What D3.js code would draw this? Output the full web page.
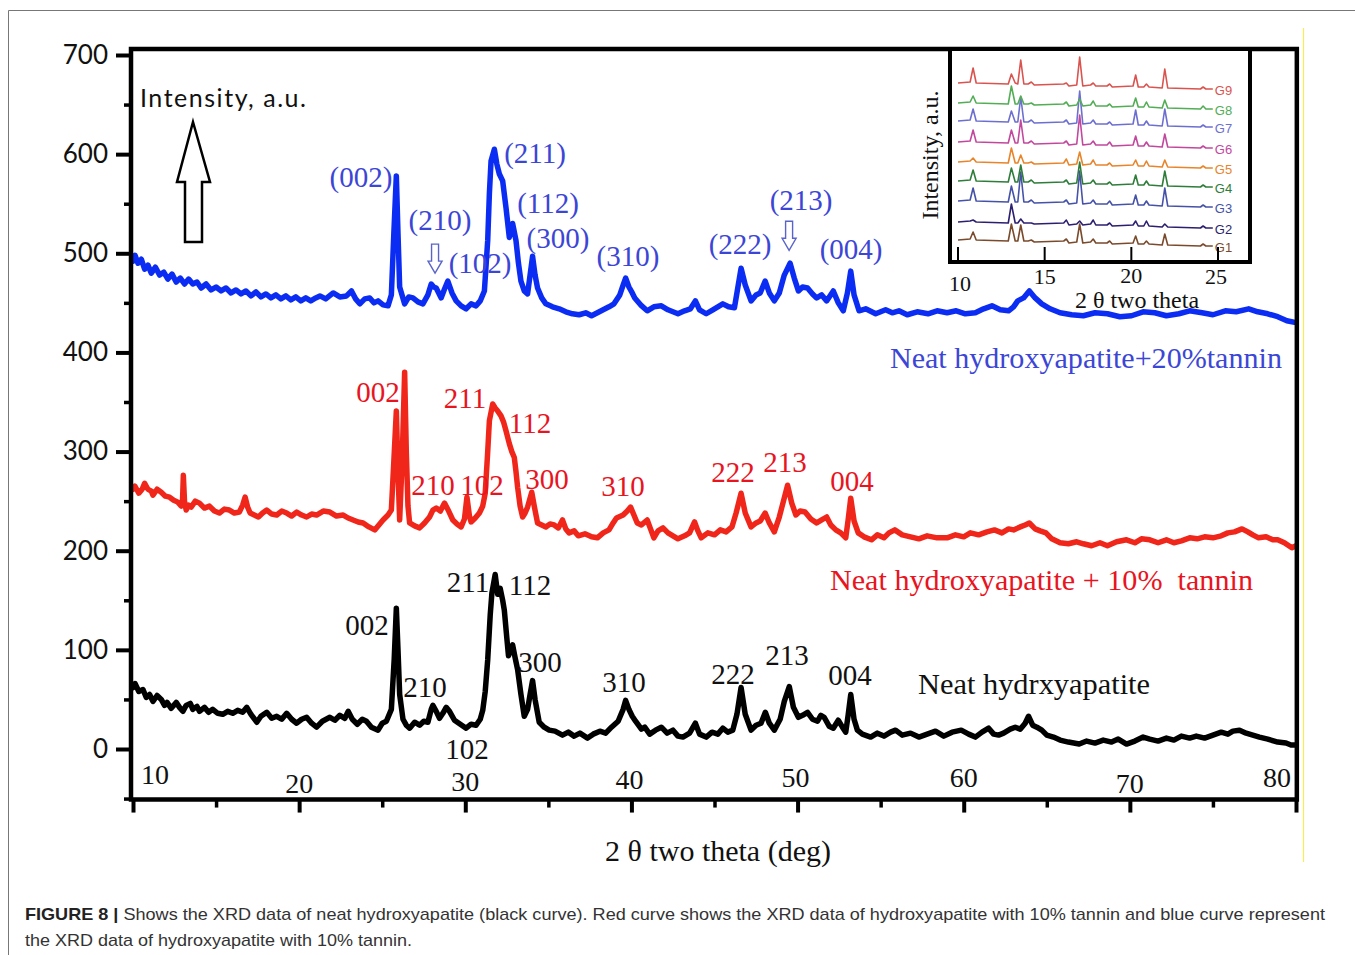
<!DOCTYPE html>
<html>
<head>
<meta charset="utf-8">
<script src="https://cdn.jsdelivr.net/npm/d3@7"></script>
<style>
  body { margin: 0; background: #fff; }
  text { white-space: pre; }
</style>
</head>
<body>
<svg id="chart"></svg>
<script>
// 2 theta (deg), intensity (a.u.)
var neatHA = [[10.0,62],[10.12,66],[10.35,58],[10.6,60],[10.8,52],[11.0,55],[11.2,48],[11.45,54],[11.7,50],[11.9,44],[12.05,47],[12.3,41],[12.6,47],[12.8,42],[13.0,38],[13.2,44],[13.45,46],[13.6,40],[13.85,43],[14.0,38],[14.3,42],[14.55,37],[14.8,40],[15.1,36],[15.4,35],[15.7,38],[16.0,36],[16.3,39],[16.6,37],[16.85,42],[17.1,35],[17.45,27],[17.7,33],[18.05,37],[18.35,31],[18.65,33],[18.95,30],[19.25,36],[19.55,30],[19.85,26],[20.15,30],[20.45,32],[20.75,26],[21.05,22],[21.4,28],[21.85,32],[22.15,29],[22.45,34],[22.75,31],[22.95,38],[23.2,30],[23.5,25],[23.8,30],[24.05,28],[24.35,22],[24.75,19],[25.0,26],[25.25,28],[25.55,40],[25.72,90],[25.85,142],[25.95,100],[26.05,55],[26.25,30],[26.45,24],[26.65,21],[26.95,27],[27.25,24],[27.5,28],[27.75,27],[27.95,40],[28.05,44],[28.25,38],[28.45,31],[28.65,36],[28.85,42],[29.05,38],[29.35,29],[29.7,25],[30.05,21],[30.35,25],[30.65,24],[30.9,30],[31.05,39],[31.2,58],[31.35,90],[31.5,135],[31.6,157],[31.8,176],[31.95,156],[32.1,162],[32.25,150],[32.35,140],[32.5,112],[32.6,94],[32.75,100],[32.85,105],[33.0,92],[33.15,80],[33.35,55],[33.55,33],[33.75,40],[33.9,55],[34.05,69],[34.2,50],[34.45,27],[34.75,22],[35.05,19],[35.4,18],[35.85,14],[36.2,17],[36.55,13],[36.9,16],[37.36,11],[37.7,15],[38.1,18],[38.45,16],[38.8,22],[39.2,28],[39.5,40],[39.65,49],[39.85,40],[40.05,33],[40.25,28],[40.6,20],[40.8,22],[41.1,15],[41.45,19],[41.8,22],[42.15,16],[42.5,19],[42.8,13],[43.1,12],[43.5,16],[43.85,26],[44.1,15],[44.5,12],[44.85,17],[45.2,15],[45.5,21],[45.8,17],[46.1,19],[46.35,35],[46.6,62],[46.85,35],[47.2,19],[47.5,24],[47.8,26],[48.06,37],[48.3,26],[48.6,19],[48.95,30],[49.2,48],[49.5,63],[49.75,42],[50.05,32],[50.3,34],[50.6,37],[50.9,30],[51.2,28],[51.4,34],[51.6,32],[51.9,23],[52.15,21],[52.45,29],[52.7,22],[52.9,17],[53.05,35],[53.2,55],[53.4,30],[53.6,19],[53.9,15],[54.4,12],[54.8,16],[55.2,13],[55.6,17],[55.9,19],[56.3,14],[56.8,16],[57.3,12],[57.8,15],[58.3,18],[58.8,13],[59.3,17],[59.85,19],[60.3,15],[60.7,12],[61.1,17],[61.5,21],[61.8,15],[62.1,14],[62.4,16],[62.8,20],[63.1,22],[63.4,20],[63.7,26],[63.9,33],[64.15,24],[64.4,22],[64.7,19],[65.0,14],[65.4,12],[65.8,9],[66.3,7],[66.95,5],[67.4,8],[67.9,6],[68.4,9],[68.9,7],[69.3,10],[69.8,5],[70.3,8],[70.8,12],[71.2,10],[71.7,8],[72.2,11],[72.65,9],[73.1,13],[73.6,11],[74.0,13],[74.5,11],[75.0,14],[75.5,17],[75.9,15],[76.2,18],[76.6,19],[77.0,16],[77.4,14],[77.8,12],[78.3,10],[78.9,7],[79.4,6],[79.7,4],[80.0,4]];

var ha10Tannin = [[10.0,262],[10.12,265],[10.35,258],[10.55,262],[10.7,268],[10.9,262],[11.1,260],[11.2,256],[11.45,262],[11.7,259],[11.95,255],[12.2,254],[12.45,251],[12.7,249],[12.9,245],[12.98,250],[13.03,276],[13.1,250],[13.2,241],[13.35,246],[13.5,244],[13.75,250],[14.0,248],[14.3,243],[14.6,245],[14.9,240],[15.2,238],[15.5,242],[15.8,241],[16.1,238],[16.4,239],[16.6,246],[16.75,254],[16.9,244],[17.05,238],[17.3,236],[17.55,234],[17.8,238],[18.05,241],[18.35,237],[18.65,236],[18.95,240],[19.25,238],[19.55,235],[19.85,239],[20.15,236],[20.45,234],[20.75,237],[21.05,236],[21.45,240],[21.85,239],[22.25,235],[22.65,236],[22.95,233],[23.25,231],[23.55,229],[23.85,228],[24.2,224],[24.55,221],[24.8,226],[25.05,231],[25.35,236],[25.55,241],[25.7,290],[25.85,341],[25.95,280],[26.05,231],[26.2,291],[26.35,380],[26.45,300],[26.55,245],[26.65,228],[26.95,225],[27.25,223],[27.55,228],[27.85,234],[28.05,241],[28.25,243],[28.5,240],[28.75,248],[29.0,240],[29.25,231],[29.5,227],[29.75,224],[29.95,232],[30.1,254],[30.25,235],[30.35,229],[30.6,233],[30.85,238],[31.05,245],[31.2,258],[31.35,300],[31.45,331],[31.65,348],[31.8,344],[31.95,341],[32.15,336],[32.3,330],[32.45,321],[32.65,308],[32.8,300],[32.95,294],[33.05,280],[33.15,264],[33.3,245],[33.45,234],[33.6,238],[33.75,244],[34.0,259],[34.15,245],[34.35,228],[34.6,226],[34.85,224],[35.1,227],[35.35,226],[35.6,223],[35.85,231],[36.05,222],[36.25,218],[36.55,220],[36.8,215],[37.2,217],[37.6,214],[37.95,213],[38.3,218],[38.65,221],[38.9,228],[39.1,233],[39.5,236],[39.75,240],[39.95,244],[40.15,236],[40.35,228],[40.6,226],[40.95,231],[41.15,222],[41.35,213],[41.6,220],[41.9,223],[42.2,218],[42.5,215],[42.8,212],[43.2,215],[43.5,218],[43.8,229],[44.0,220],[44.2,213],[44.6,218],[45.0,216],[45.35,221],[45.7,219],[46.05,224],[46.3,238],[46.6,258],[46.85,238],[47.2,224],[47.5,228],[47.75,230],[48.05,238],[48.3,228],[48.6,219],[48.9,234],[49.15,250],[49.4,266],[49.65,248],[49.9,236],[50.15,240],[50.45,239],[50.8,232],[51.15,228],[51.45,231],[51.75,234],[52.0,226],[52.3,221],[52.6,218],[52.9,213],[53.05,232],[53.2,253],[53.4,230],[53.65,218],[54.0,214],[54.45,211],[54.8,216],[55.2,213],[55.5,218],[55.85,221],[56.3,216],[56.8,214],[57.3,212],[57.8,215],[58.4,213],[59.0,213],[59.5,216],[60.0,214],[60.4,218],[60.9,216],[61.4,219],[61.85,221],[62.3,218],[62.7,222],[63.0,221],[63.4,224],[63.7,226],[63.95,228],[64.3,222],[64.6,220],[64.95,218],[65.3,212],[65.8,208],[66.3,207],[66.8,209],[67.2,207],[67.7,205],[68.2,208],[68.65,205],[69.2,209],[69.8,211],[70.3,208],[70.7,212],[71.2,211],[71.7,208],[72.2,211],[72.65,208],[73.1,210],[73.6,213],[74.05,212],[74.5,214],[75.0,213],[75.5,215],[75.9,218],[76.3,219],[76.75,222],[77.1,219],[77.4,216],[77.75,213],[78.2,214],[78.6,211],[78.9,211],[79.3,208],[79.75,203],[80.0,205]];

var ha20Tannin = [[10.0,492],[10.12,498],[10.3,490],[10.5,494],[10.7,484],[10.9,488],[11.1,480],[11.35,486],[11.6,478],[11.85,481],[12.1,474],[12.35,479],[12.6,471],[12.85,475],[13.1,469],[13.35,474],[13.6,469],[13.85,471],[14.1,465],[14.4,469],[14.7,463],[15.0,466],[15.3,462],[15.6,465],[15.9,460],[16.2,463],[16.5,459],[16.8,462],[17.1,457],[17.4,461],[17.7,456],[18.0,459],[18.3,455],[18.6,458],[18.9,454],[19.2,457],[19.5,453],[19.8,456],[20.1,452],[20.4,455],[20.7,452],[21.0,455],[21.25,457],[21.6,454],[22.05,460],[22.45,456],[22.85,457],[23.15,462],[23.4,454],[23.65,449],[23.95,454],[24.25,455],[24.5,450],[24.75,452],[25.05,448],[25.35,447],[25.55,458],[25.7,520],[25.85,578],[25.95,520],[26.05,466],[26.35,449],[26.6,456],[26.85,455],[27.15,451],[27.45,449],[27.75,458],[27.95,469],[28.1,466],[28.25,465],[28.55,455],[28.75,464],[28.95,472],[29.2,460],[29.45,452],[29.75,447],[30.05,444],[30.35,449],[30.65,447],[30.9,452],[31.15,462],[31.35,513],[31.45,560],[31.55,593],[31.75,605],[31.9,590],[32.05,580],[32.25,573],[32.45,546],[32.65,516],[32.85,530],[33.05,513],[33.2,490],[33.35,472],[33.55,462],[33.75,459],[33.9,478],[34.05,497],[34.2,478],[34.35,465],[34.6,455],[34.85,449],[35.25,446],[35.65,444],[36.05,441],[36.45,439],[36.85,438],[37.25,440],[37.6,437],[37.95,440],[38.3,443],[38.65,446],[38.95,449],[39.3,458],[39.5,468],[39.65,475],[39.85,466],[40.05,460],[40.2,455],[40.55,448],[40.95,442],[41.35,446],[41.8,447],[42.2,443],[42.5,441],[42.8,439],[43.2,442],[43.55,444],[43.85,452],[44.1,443],[44.5,439],[44.9,443],[45.2,446],[45.5,449],[45.85,446],[46.2,445],[46.4,465],[46.6,485],[46.85,468],[47.2,452],[47.5,458],[47.75,460],[48.05,472],[48.3,460],[48.6,452],[48.9,460],[49.2,478],[49.55,490],[49.8,475],[50.05,462],[50.3,466],[50.6,465],[50.9,459],[51.15,455],[51.45,458],[51.75,452],[51.95,457],[52.15,462],[52.45,450],[52.75,442],[53.0,460],[53.2,482],[53.4,458],[53.7,442],[54.1,444],[54.7,439],[55.3,443],[55.7,440],[56.1,442],[56.6,438],[57.2,441],[57.85,439],[58.4,442],[59.0,440],[59.55,442],[60.1,439],[60.7,440],[61.2,444],[61.7,447],[62.2,443],[62.7,442],[63.0,446],[63.25,452],[63.6,455],[63.95,462],[64.3,455],[64.7,449],[65.2,444],[65.8,440],[66.5,438],[67.2,437],[67.9,440],[68.65,439],[69.4,436],[70.1,437],[70.8,441],[71.5,440],[72.2,437],[72.95,439],[73.6,442],[74.35,440],[75.0,438],[75.75,442],[76.4,441],[77.15,444],[77.7,441],[78.3,439],[78.9,436],[79.45,432],[80.0,430]];

var xTicks = [10, 20, 30, 40, 50, 60, 70, 80];
var xMinorTicks = [15, 25, 35, 45, 55, 65, 75];
var yTicks = [0, 100, 200, 300, 400, 500, 600, 700];
var yMinorTicks = [-50, 50, 150, 250, 350, 450, 550, 650];

// peak labels: text, 2theta, intensity
var blueLabels = [["(002)",23.72,577],["(210)",28.48,534],["(102)",30.89,490],["(211)",34.2,601],["(112)",34.98,551],["(300)",35.58,515],["(310)",39.79,497],["(222)",46.54,509],["(213)",50.21,554],["(004)",53.22,504]];
var redLabels = [["002",24.75,360],["211",29.98,354],["112",33.9,329],["210",28.06,266],["102",31.01,266],["300",34.92,272],["310",39.49,265],["222",46.11,279],["213",49.24,289],["004",53.28,270]];
var blackLabels = [["002",24.08,125],["210",27.58,63],["102",30.1,0],["211",30.16,168],["112",33.9,165],["300",34.5,88],["310",39.55,68],["222",46.11,76],["213",49.36,95],["004",53.16,75]];
var blueArrows = [[28.18,480],[49.49,503]];
var seriesNames = ["Neat hydroxyapatite+20%tannin", "Neat hydroxyapatite + 10%  tannin", "Neat hydrxyapatite"];
var seriesNamePos = [[55.56,394],[51.95,170],[57.25,66]];

// inset (G1..G9)
var insetTheta = [10,10.7,10.87,11.05,12.9,13.08,13.3,13.45,13.62,13.8,14.05,14.23,14.4,16.1,16.25,16.4,16.85,17.02,17.2,17.65,17.8,17.95,18.6,18.75,18.9,20.1,20.25,20.4,20.72,20.87,21.02,21.78,21.93,22.1,23.99,24.14,24.3,24.7];
var insetG1 = [0,1,8,0,-1,16,-1,-1,15,-1,-1,0,-2,-1,1,-3,-2,16,-3,-2,1,-3,-3,-1,-4,-3,4,-4,-4,-1,-4,-5,6,-5,-6,-4,-6,-6];
var insetG2 = [0,1,2,0,-1,18,-1,-1,3,-1,-1,-1,-2,-1,2,-3,-2,1,-3,-2,2,-3,-3,-1,-4,-3,1,-4,-4,1,-4,-5,-2,-5,-6,-4,-6,-6];
var insetG3 = [0,1,13,0,-1,15,-1,-1,29,-1,-1,1,-2,-1,1,-3,-2,30,-3,-2,1,-3,-3,0,-4,-3,6,-4,-4,0,-4,-5,13,-5,-6,-4,-6,-6];
var insetG4 = [0,1,11,0,-1,13,-1,-1,16,-1,-1,1,-2,-1,1,-3,-2,19,-3,-2,1,-3,-3,-1,-4,-3,6,-4,-4,0,-4,-5,10,-5,-6,-4,-6,-6];
var insetG5 = [0,1,4,0,-1,14,-1,-1,7,-1,-1,0,-2,-1,3,-3,-2,10,-3,-2,2,-3,-3,-1,-4,-3,2,-4,-4,1,-4,-5,2,-5,-6,-4,-6,-6];
var insetG6 = [0,1,12,0,-1,12,-1,-1,22,-1,-1,1,-2,-1,1,-3,-2,27,-3,-2,1,-3,-3,0,-4,-3,6,-4,-4,0,-4,-5,8,-5,-6,-4,-6,-6];
var insetG7 = [0,1,12,0,-1,10,-1,-1,24,-1,-1,1,-2,-1,1,-3,-2,30,-3,-2,1,-3,-3,-1,-4,-3,11,-4,-4,0,-4,-5,12,-5,-6,-4,-6,-6];
var insetG8 = [0,1,7,0,-1,17,-1,-1,7,-1,-1,0,-2,-1,1,-3,-2,4,-3,-2,2,-3,-3,-1,-4,-3,5,-4,-4,1,-4,-5,3,-5,-6,-3,-6,-6];
var insetG9 = [0,1,15,0,-1,9,0,-1,23,-1,-1,1,-2,-1,0,-3,-2,26,-3,-2,0,-3,-3,-1,-4,-3,8,-4,-4,-1,-4,-5,14,-5,-6,-4,-6,-6];
var insetNames = ["G1","G2","G3","G4","G5","G6","G7","G8","G9"];
var insetOffsets = [21, 39, 60, 80, 99, 119, 140, 158, 178];
var insetTicks = [10, 15, 20, 25];

drawChart();

function drawChart() {
    var svgWidth = 1355, svgHeight = 955;
    var serif = "'Liberation Serif', 'Times New Roman', serif";
    var sans = "Lato, 'Open Sans', sans-serif";
    var blueLine = "#0b2cf2", blueText = "#3c46d6";
    var redLine = "#f0261a", redText = "#e8141e";

    var svg = d3.select('#chart')
        .attr("width", svgWidth)
        .attr("height", svgHeight)
        .style("background", "#fff");

    // page frame bits
    svg.append("path").attr("d", "M8.5,955 V10.5 H1355").attr("fill", "none")
        .attr("stroke", "#777").attr("stroke-width", 1);
    svg.append("line").attr("x1", 1303.5).attr("x2", 1303.5).attr("y1", 28).attr("y2", 862)
        .attr("stroke", "#f7ec5a").attr("stroke-width", 1.2);

    var x = d3.scaleLinear().domain([10, 80]).range([133, 1296]);
    var y = d3.scaleLinear().domain([0, 700]).range([749, 55]);

    var line = d3.line()
        .x(function(d) { return x(d[0]) })
        .y(function(d) { return y(d[1]) });

    // curves
    [[ha20Tannin, blueLine], [ha10Tannin, redLine], [neatHA, "#000"]].forEach(function(s) {
        svg.append("path")
            .datum(s[0])
            .attr("fill", "none")
            .attr("stroke", s[1])
            .attr("stroke-linejoin", "round")
            .attr("stroke-linecap", "round")
            .attr("stroke-width", 5.5)
            .attr("d", line);
    });

    // frame
    var xl = 131, yb = y(-51), yt = y(706), xr = x(80.05);
    svg.append("path")
        .attr("d", "M" + xl + "," + yt + " H" + xr + " V" + yb + " H" + xl + " Z")
        .attr("fill", "none").attr("stroke", "#000").attr("stroke-width", 4.5);

    // y axis
    var gy = svg.append("g").attr("transform", "translate(" + xl + ",0)");
    gy.call(d3.axisLeft(y).tickValues(yTicks).tickSize(15).tickPadding(8))
        .call(function(g) { g.select(".domain").remove(); });
    gy.selectAll(".tick line").attr("stroke-width", 4);
    gy.selectAll(".tick text").attr("font-family", sans).attr("font-size", 26).attr("fill", "#111");
    var gym = svg.append("g").attr("transform", "translate(" + xl + ",0)");
    gym.call(d3.axisLeft(y).tickValues(yMinorTicks).tickSize(7).tickFormat(""))
        .call(function(g) { g.select(".domain").remove(); });
    gym.selectAll(".tick line").attr("stroke-width", 3.5);

    // x axis (labels sit inside the frame)
    var gx = svg.append("g").attr("transform", "translate(0," + yb + ")");
    gx.call(d3.axisBottom(x).tickValues(xTicks).tickSize(13).tickFormat(""))
        .call(function(g) { g.select(".domain").remove(); });
    gx.selectAll(".tick line").attr("stroke-width", 4);
    var gxm = svg.append("g").attr("transform", "translate(0," + yb + ")");
    gxm.call(d3.axisBottom(x).tickValues(xMinorTicks).tickSize(8).tickFormat(""))
        .call(function(g) { g.select(".domain").remove(); });
    gxm.selectAll(".tick line").attr("stroke-width", 3.5);

    var xLabOff = { 10: [22, -25], 20: [0, -16], 30: [0, -18], 40: [-2, -20], 50: [-2, -22], 60: [0, -22], 70: [0, -16], 80: [-19, -22] };
    svg.append("g").selectAll("text").data(xTicks).join("text")
        .attr("x", function(d) { return x(d) + xLabOff[d][0] })
        .attr("y", function(d) { return yb + xLabOff[d][1] })
        .attr("text-anchor", "middle").attr("dominant-baseline", "central")
        .attr("font-family", serif).attr("font-size", 28).attr("fill", "#111")
        .text(function(d) { return d });

    svg.append("text")
        .attr("x", 718).attr("y", 850)
        .attr("text-anchor", "middle").attr("dominant-baseline", "central")
        .attr("font-family", serif).attr("font-size", 30).attr("fill", "#111")
        .text("2 \u03b8 two theta (deg)");

    // intensity label + hollow arrow
    svg.append("text")
        .attr("x", 140).attr("y", 97)
        .attr("dominant-baseline", "central")
        .attr("font-family", sans).attr("font-size", 25).attr("fill", "#111")
        .attr("textLength", 166).attr("lengthAdjust", "spacing")
        .text("Intensity, a.u.");
    svg.append("path")
        .attr("d", "M193,122 L210,182 L202,182 L202,242 L185,242 L185,182 L177,182 Z")
        .attr("fill", "#fff").attr("stroke", "#000").attr("stroke-width", 2.5)
        .attr("stroke-linejoin", "miter");

    // peak labels
    function peakLabels(arr, color) {
        svg.append("g").selectAll("text").data(arr).join("text")
            .attr("x", function(d) { return x(d[1]) })
            .attr("y", function(d) { return y(d[2]) })
            .attr("text-anchor", "middle").attr("dominant-baseline", "central")
            .attr("font-family", serif).attr("font-size", 29).attr("fill", color)
            .text(function(d) { return d[0] });
    }
    peakLabels(blueLabels, blueText);
    peakLabels(redLabels, redText);
    peakLabels(blackLabels, "#111");

    svg.append("g").selectAll("path").data(blueArrows).join("path")
        .attr("d", function(d) {
            var tx = x(d[0]), ty = y(d[1]);
            return "M" + tx + "," + ty + " L" + (tx - 7) + "," + (ty - 12) + " L" + (tx - 3.5) + "," + (ty - 12) +
                " L" + (tx - 3.5) + "," + (ty - 29) + " L" + (tx + 3.5) + "," + (ty - 29) + " L" + (tx + 3.5) + "," + (ty - 12) +
                " L" + (tx + 7) + "," + (ty - 12) + " Z";
        })
        .attr("fill", "#fff").attr("stroke", "#5a64c8").attr("stroke-width", 1.4);

    var nameColors = [blueText, redText, "#111"];
    var nameWidths = [392, 423, 232];
    svg.append("g").selectAll("text").data(seriesNames).join("text")
        .attr("x", function(d, i) { return x(seriesNamePos[i][0]) })
        .attr("y", function(d, i) { return y(seriesNamePos[i][1]) })
        .attr("dominant-baseline", "central")
        .attr("font-family", serif).attr("font-size", 29)
        .attr("textLength", function(d, i) { return nameWidths[i] })
        .attr("lengthAdjust", "spacingAndGlyphs")
        .attr("fill", function(d, i) { return nameColors[i] })
        .text(function(d) { return d });

    // ---- inset ----
    var ix0 = 950, iy0 = 49, ix1 = 1250, iy1 = 262;
    svg.append("rect")
        .attr("x", ix0).attr("y", iy0).attr("width", ix1 - ix0).attr("height", iy1 - iy0)
        .attr("fill", "#fff").attr("stroke", "#000").attr("stroke-width", 4);

    var xi = d3.scaleLinear().domain([10, 25]).range([958, 1218]);
    var yi = d3.scaleLinear().domain([0, 210]).range([261, 51]);
    var insetSeries = [insetG1, insetG2, insetG3, insetG4, insetG5, insetG6, insetG7, insetG8, insetG9];
    var insetColors = ["#7a4a2c", "#2c1f70", "#4552a8", "#2f7d3a", "#e8842a", "#c2489e", "#6d6fd0", "#52ad55", "#d9534f"];

    insetSeries.forEach(function(vals, k) {
        var pts = insetTheta.map(function(t, i) { return [t, insetOffsets[k] + vals[i]] });
        svg.append("path")
            .datum(pts)
            .attr("fill", "none")
            .attr("stroke", insetColors[k])
            .attr("stroke-width", 1.6)
            .attr("stroke-linejoin", "round")
            .attr("d", d3.line().x(function(d) { return xi(d[0]) }).y(function(d) { return yi(d[1]) }));
        svg.append("text")
            .attr("x", xi(24.7) + 2)
            .attr("y", yi(insetOffsets[k] + vals[vals.length - 1]) + 1)
            .attr("dominant-baseline", "central")
            .attr("font-family", "'Liberation Sans', Arial, sans-serif").attr("font-size", 13)
            .attr("fill", insetColors[k])
            .text(insetNames[k]);
    });

    svg.append("g").selectAll("line").data(insetTicks).join("line")
        .attr("x1", function(d) { return xi(d) }).attr("x2", function(d) { return xi(d) })
        .attr("y1", iy1 - 1).attr("y2", iy1 - 15)
        .attr("stroke", "#000").attr("stroke-width", 2);

    var insetLabOff = { 10: [2, 21], 15: [0, 14], 20: [0, 13], 25: [-2, 14] };
    svg.append("g").selectAll("text").data(insetTicks).join("text")
        .attr("x", function(d) { return xi(d) + insetLabOff[d][0] })
        .attr("y", function(d) { return iy1 + insetLabOff[d][1] })
        .attr("text-anchor", "middle").attr("dominant-baseline", "central")
        .attr("font-family", serif).attr("font-size", 22).attr("fill", "#111")
        .text(function(d) { return d });
    svg.append("text")
        .attr("x", 1137).attr("y", 300)
        .attr("text-anchor", "middle").attr("dominant-baseline", "central")
        .attr("font-family", serif).attr("font-size", 24).attr("fill", "#111")
        .text("2 \u03b8 two theta");
    svg.append("text")
        .attr("transform", "translate(930,155) rotate(-90)")
        .attr("text-anchor", "middle").attr("dominant-baseline", "central")
        .attr("font-family", serif).attr("font-size", 24).attr("fill", "#111")
        .text("Intensity, a.u.");

    // caption
    var cap = svg.append("text")
        .attr("x", 25).attr("y", 920)
        .attr("font-family", "'Liberation Sans Narrow', 'Liberation Sans', Arial, sans-serif")
        .attr("font-size", 17).attr("fill", "#333")
        .attr("textLength", 1300).attr("lengthAdjust", "spacingAndGlyphs");
    cap.append("tspan").attr("font-weight", "bold").attr("fill", "#222").text("FIGURE 8 | ");
    cap.append("tspan").text("Shows the XRD data of neat hydroxyapatite (black curve). Red curve shows the XRD data of hydroxyapatite with 10% tannin and blue curve represent");
    svg.append("text")
        .attr("x", 25).attr("y", 946)
        .attr("font-family", "'Liberation Sans Narrow', 'Liberation Sans', Arial, sans-serif")
        .attr("font-size", 17).attr("fill", "#333")
        .attr("textLength", 387).attr("lengthAdjust", "spacingAndGlyphs")
        .text("the XRD data of hydroxyapatite with 10% tannin.");
}
</script>
</body>
</html>
